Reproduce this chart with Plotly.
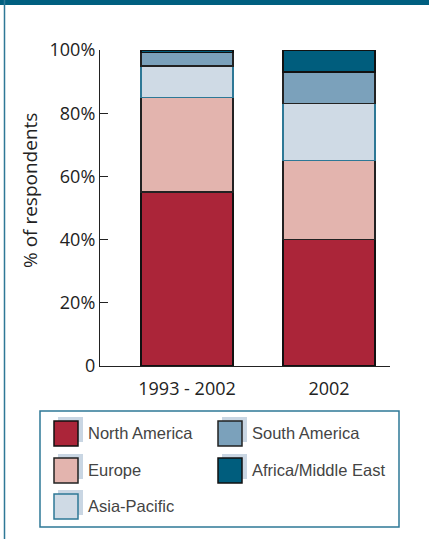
import plotly.graph_objects as go

categories = ["1993 - 2002", "2002"]
series_names = ["North America", "Europe", "Asia-Pacific", "South America", "Africa/Middle East"]
north_america = [55, 40]
europe = [30, 25]
asia_pacific = [10, 18]
south_america = [4.2, 10]
africa_me = [0.8, 7]
tick_vals = [0, 20, 40, 60, 80, 100]
tick_text = ["0", "20%", "40%", "60%", "80%", "100%"]
y_title = "% of respondents"

values = [north_america, europe, asia_pacific, south_america, africa_me]
colors = ["#AB2539", "#E3B4AE", "#CFDAE5", "#7BA1BB", "#005D7D"]
outlines = ["#111111", "#222222", "#2E7896", "#222222", "#111111"]

W, H = 429, 539
L, R, T, B = 100, 39, 50, 173
pw, ph = W - L - R, H - T - B

def px(x):
    return (x - L) / pw

def py(y):
    return (H - B - y) / ph

fig = go.Figure()
for name, vals, c, oc in zip(series_names, values, colors, outlines):
    fig.add_trace(go.Bar(x=[0, 1], y=vals, name=name, marker=dict(color=c, line=dict(color=oc, width=1.5)),
                         width=0.648, showlegend=False))

shapes = []
annotations = []
# frame
shapes.append(dict(type="rect", xref="paper", yref="paper", x0=px(0), x1=px(W), y0=py(5), y1=py(0),
                   fillcolor="#005F80", line=dict(width=0), layer="above"))
shapes.append(dict(type="line", xref="paper", yref="paper", x0=px(4.5), x1=px(4.5), y0=py(H), y1=py(0),
                   line=dict(color="#2E7896", width=1.5)))
# legend box
shapes.append(dict(type="rect", xref="paper", yref="paper", x0=px(40), x1=px(399), y0=py(527), y1=py(411),
                   line=dict(color="#2E7896", width=1.5), fillcolor="white"))
legend_pos = [(54, 421), (54, 458), (54, 494), (218, 421), (218, 458)]
for (x, y), name, c, oc in zip(legend_pos, series_names, colors, outlines):
    shapes.append(dict(type="rect", xref="paper", yref="paper", x0=px(x + 4), x1=px(x + 29), y0=py(y + 21), y1=py(y - 4),
                       fillcolor="#C9D6E3", line=dict(width=0)))
    shapes.append(dict(type="rect", xref="paper", yref="paper", x0=px(x), x1=px(x + 24), y0=py(y + 25), y1=py(y),
                       fillcolor=c, line=dict(color=oc, width=1.5)))
    annotations.append(dict(xref="paper", yref="paper", x=px(x + 32), y=py(y + 12), text=name, showarrow=False,
                            xanchor="left", yanchor="middle",
                            font=dict(family="Liberation Sans, Arial", size=16.5, color="#444444")))

annotations.append(dict(xref="paper", yref="paper", x=px(30), y=py(191), text=y_title, showarrow=False,
                        textangle=-90, xanchor="center", yanchor="middle",
                        font=dict(family="Open Sans", size=19, color="#222222")))

fig.update_layout(
    width=W, height=H, margin=dict(l=L, r=R, t=T, b=B),
    paper_bgcolor="white", plot_bgcolor="white",
    barmode="stack", shapes=shapes, annotations=annotations,
    font=dict(family="Open Sans", size=18, color="#222222"),
    xaxis=dict(range=[-0.613, 1.43], tickvals=[0, 1], ticktext=categories, showline=True, linecolor="#222222",
               linewidth=1.2, ticks="", showgrid=False, zeroline=False, tickfont=dict(size=18),
               ticklabelstandoff=6, fixedrange=True),
    yaxis=dict(range=[0, 100], tickvals=tick_vals, ticktext=tick_text, showline=True, linecolor="#222222",
               linewidth=1.2, ticks="inside", ticklen=8, tickcolor="#222222", showgrid=False, zeroline=False,
               tickfont=dict(size=18), fixedrange=True),
)
fig.write_html("out.html")
